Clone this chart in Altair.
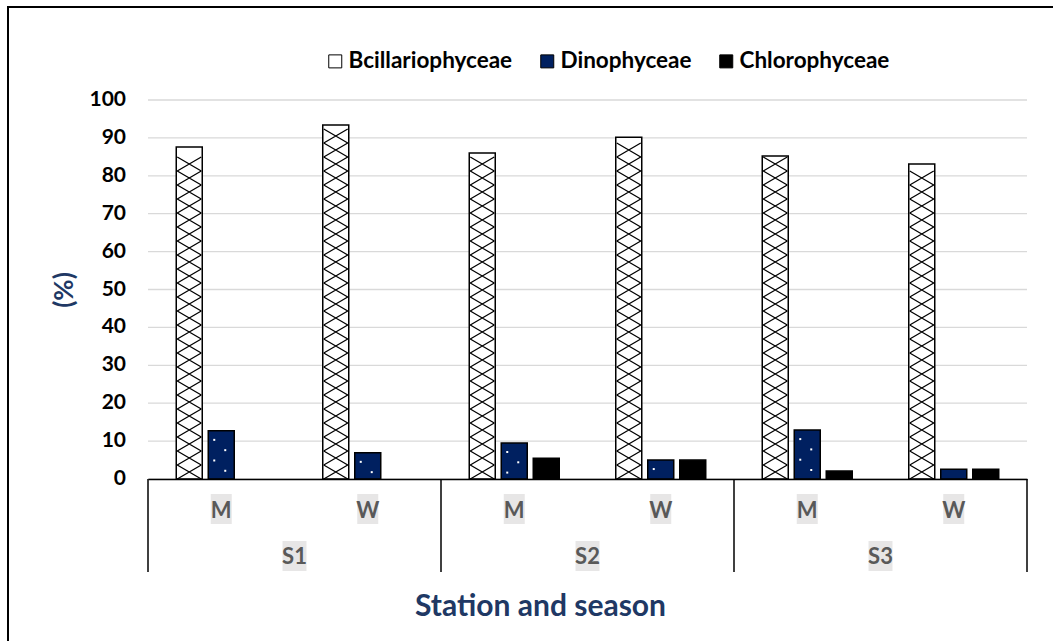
import altair as alt
import pandas as pd

# ---- data -----------------------------------------------------------------
stations = ["S1", "S1", "S2", "S2", "S3", "S3"]
seasons = ["M", "W", "M", "W", "M", "W"]
groups = ["Bcillariophyceae", "Dinophyceae", "Chlorophyceae"]
bcill = [87.6, 93.4, 86.0, 90.2, 85.2, 83.1]
dino = [12.7, 6.9, 9.5, 5.0, 12.9, 2.6]
chloro = [0.0, 0.0, 5.5, 5.0, 2.1, 2.6]
station_names = ["S1", "S2", "S3"]
y_ticks = [0, 10, 20, 30, 40, 50, 60, 70, 80, 90, 100]
fills = ["#ffffff", "#002060", "#000000"]

# ---- layout ---------------------------------------------------------------
W, H = 879, 379
PX = H / 100.0                 # pixels per percentage point
FONT = "Lato"
NAVY = "#203864"
GREY_TXT = "#595959"
GREY_BG = "#e7e6e6"

cats = [f"{s}|{m}" for s, m in zip(stations, seasons)]

rows = []
for c, st, vals in zip(cats, stations, zip(bcill, dino, chloro)):
    for g, v in zip(groups, vals):
        rows.append({"cat": c, "station": st, "group": g, "value": v})
bars_df = pd.DataFrame(rows)

# cross-hatch marks stacked inside each Bcillariophyceae bar
hatch_step = 14 / PX
hatch_rows = []
for c, v in zip(cats, bcill):
    y = hatch_step / 2
    while y + hatch_step / 2 <= v + 0.01:
        hatch_rows.append({"cat": c, "group": groups[0], "y": y})
        y += hatch_step
hatch_df = pd.DataFrame(hatch_rows)

# white dot texture inside each Dinophyceae bar
dot_rows = []
for c, v in zip(cats, dino):
    y = v - 9 / PX
    k = 0
    while y >= 3 / PX:
        dot_rows.append({"cat": c, "group": groups[1], "y": y, "side": "L" if k % 2 == 0 else "R"})
        y -= 10.3 / PX
        k += 1
dot_df = pd.DataFrame(dot_rows)

# one row per station: anchored on the boundary between its two seasons
first_cat = [f"{s}|M" for s in station_names]
station_df = pd.DataFrame({"cat": first_cat, "station": station_names})
last_df = pd.DataFrame({"cat": [cats[-1]]})
tick_df = pd.DataFrame({"tick": y_ticks})

X_PATH = "M-1,-0.58L1,0.58M-1,0.58L1,-0.58"
DOT_L = "M-0.8,-0.1h0.2v0.2h-0.2Z"
DOT_R = "M0.3,-0.1h0.2v0.2h-0.2Z"
STATION_BOX = "M-0.8,-1H0.8V1H-0.8Z"

y_scale = alt.Scale(domain=[0, 100])
y_axis = alt.Axis(
    labels=False,
    domain=False,
    ticks=False,
    grid=False,
    title="(%)",
    titleFont=FONT,
    titleFontSize=26,
    titleFontWeight="bold",
    titleColor=NAVY,
    titleAngle=-90,
    titleX=-84,
    titleY=H / 2,
    titleAlign="center",
    titleBaseline="middle",
)

x_scale = alt.Scale(domain=cats, paddingInner=0, paddingOuter=0)
x_axis = alt.Axis(
    labelExpr="split(datum.label, '|')[1]",
    labelAngle=0,
    ticks=False,
    grid=False,
    domainColor="black",
    domainWidth=1.5,
    labelFont=FONT,
    labelFontSize=22,
    labelFontWeight="bold",
    labelColor=GREY_TXT,
    labelPadding=31,
    labelBaseline="middle",
    title="Station and season",
    titleFont=FONT,
    titleFontSize=30,
    titleFontWeight="bold",
    titleColor=NAVY,
    titleX=392,
    titleY=127,
    titleAlign="center",
    titleBaseline="middle",
    zindex=1,
)


def xcat(band=0.5, axis=None):
    if axis is None:
        return alt.X("cat:N", sort=cats, scale=x_scale, bandPosition=band)
    return alt.X("cat:N", sort=cats, scale=x_scale, bandPosition=band, axis=axis)


x_off = alt.XOffset(
    "group:N",
    sort=groups,
    scale=alt.Scale(domain=groups, paddingInner=0.1875, paddingOuter=0.883),
)

# horizontal gridlines and their value labels
grid = (
    alt.Chart(tick_df)
    .mark_rule(color="#d9d9d9", strokeWidth=1.3)
    .encode(y=alt.Y("tick:Q", scale=y_scale), x=alt.value(0), x2=alt.value(W))
)
tick_labels = (
    alt.Chart(tick_df)
    .mark_text(font=FONT, fontSize=21, fontWeight="bold", color="black", align="right", baseline="middle")
    .encode(y=alt.Y("tick:Q", scale=y_scale), x=alt.value(-22), text="tick:Q")
)

season_bg = (
    alt.Chart(pd.DataFrame({"cat": cats}))
    .mark_rect(width=21, height=30, color=GREY_BG)
    .encode(x=xcat(), y=alt.value(H + 30))
)

station_bg = (
    alt.Chart(station_df)
    .mark_point(shape=STATION_BOX, size=900, filled=True, fill=GREY_BG, strokeWidth=0, opacity=1)
    .encode(x=xcat(1.0), y=alt.value(H + 77))
)

station_txt = (
    alt.Chart(station_df)
    .mark_text(font=FONT, fontSize=22, fontWeight="bold", color=GREY_TXT, baseline="middle", align="center")
    .encode(x=xcat(1.0), y=alt.value(H + 78), text="station:N")
)

# vertical separators of the station groups below the axis
sep = (
    alt.Chart(station_df)
    .mark_rule(color="black", strokeWidth=1.5)
    .encode(x=xcat(0.0), y=alt.value(H), y2=alt.value(H + 93))
)
sep_end = (
    alt.Chart(last_df)
    .mark_rule(color="black", strokeWidth=1.5)
    .encode(x=xcat(1.0), y=alt.value(H), y2=alt.value(H + 93))
)

bars = (
    alt.Chart(bars_df)
    .transform_filter("datum.value > 0")
    .mark_bar(stroke="black", strokeWidth=1.5)
    .encode(
        x=xcat(axis=x_axis),
        xOffset=x_off,
        y=alt.Y("value:Q", scale=y_scale, axis=y_axis),
        fill=alt.Fill(
            "group:N",
            sort=groups,
            scale=alt.Scale(domain=groups, range=fills),
            legend=alt.Legend(
                title=None,
                orient="none",
                direction="horizontal",
                legendX=176,
                legendY=-50,
                symbolType="square",
                symbolSize=169,
                symbolStrokeColor="black",
                symbolStrokeWidth=1,
                labelFont=FONT,
                labelFontSize=22.5,
                labelFontWeight="bold",
                labelColor="black",
                labelOffset=2,
                labelLimit=400,
                columnPadding=23,
            ),
        ),
    )
)

hatch = (
    alt.Chart(hatch_df)
    .mark_point(shape=X_PATH, size=576, filled=False, stroke="black", strokeWidth=1.3, opacity=1)
    .encode(x=xcat(), xOffset=x_off, y=alt.Y("y:Q", scale=y_scale))
)

dots = (
    alt.Chart(dot_df)
    .mark_point(size=400, filled=True, fill="white", strokeWidth=0, opacity=1)
    .encode(
        x=xcat(),
        xOffset=x_off,
        y=alt.Y("y:Q", scale=y_scale),
        shape=alt.Shape("side:N", scale=alt.Scale(domain=["L", "R"], range=[DOT_L, DOT_R]), legend=None),
    )
)

frame = (
    alt.Chart(pd.DataFrame({"a": [0]}))
    .mark_rect(fill="transparent", stroke="black", strokeWidth=2)
    .encode(x=alt.value(-140), x2=alt.value(W + 60), y=alt.value(-93), y2=alt.value(H + 220))
)

chart = (
    alt.layer(
        grid, tick_labels, bars, hatch, dots,
        season_bg, station_bg, station_txt, sep, sep_end, frame,
    )
    .properties(
        width=W,
        height=H,
        autosize=alt.AutoSizeParams(type="none"),
        padding={"left": 148, "top": 100, "right": 26, "bottom": 162},
        background="white",
    )
    .configure_view(stroke=None)
)

chart.save("out.html", embed_options={"renderer": "svg", "actions": False})
